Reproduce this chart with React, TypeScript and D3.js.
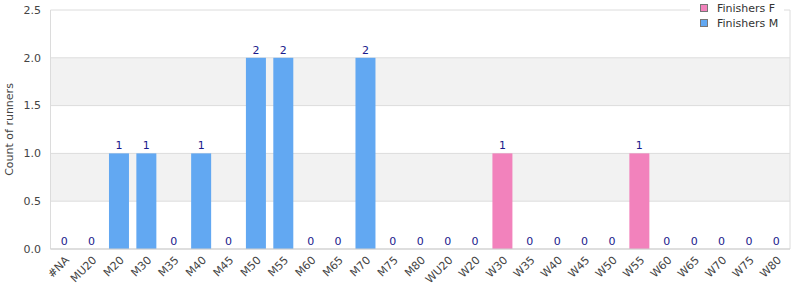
import React from "react";
import * as d3 from "d3";

const categories = ["#NA","MU20","M20","M30","M35","M40","M45","M50","M55","M60","M65","M70","M75","M80","WU20","W20","W30","W35","W40","W45","W50","W55","W60","W65","W70","W75","W80"];
const finishersF = [0,0,0,0,0,0,0,0,0,0,0,0,0,0,0,0,1,0,0,0,0,1,0,0,0,0,0];
const finishersM = [0,0,1,1,0,1,0,2,2,0,0,2,0,0,0,0,0,0,0,0,0,0,0,0,0,0,0];
const yTicks = [0, 0.5, 1.0, 1.5, 2.0, 2.5];
const seriesNames = ["Finishers F", "Finishers M"];
const colors = ["#f282bc", "#62a8f2"];

export default function App() {
  const W = 800, H = 300;
  const left = 50.5, right = 790, top = 10, bottom = 249;
  const x = d3.scaleBand<string>().domain(categories).range([left, right]).paddingInner(0.27).paddingOuter(0.135);
  const y = d3.scaleLinear().domain([0, 2.5]).range([bottom, top]);
  const font = "DejaVu Sans, sans-serif";
  const bands = [[0.5, 1.0], [1.5, 2.0]];
  return (
    <svg width={W} height={H} style={{ position: "absolute", left: 0, top: 0, fontFamily: font }}>
      <rect x={0} y={0} width={W} height={H} fill="#fff" />
      {bands.map(([a, b], i) => (
        <rect key={i} x={left} y={y(b)} width={right - left} height={y(a) - y(b)} fill="#f2f2f2" />
      ))}
      {yTicks.map((t) => (
        <g key={t}>
          <line x1={left} x2={right} y1={y(t)} y2={y(t)} stroke="#dcdcdc" />
          <text x={41} y={y(t)} dy="0.35em" textAnchor="end" fontSize={11} fill="#444">{t.toFixed(1)}</text>
        </g>
      ))}
      <line x1={left} x2={left} y1={top} y2={bottom} stroke="#dcdcdc" />
      <line x1={right} x2={right} y1={top} y2={bottom} stroke="#dcdcdc" />
      {categories.map((c, i) => {
        const v = finishersF[i] || finishersM[i];
        const col = finishersF[i] ? colors[0] : colors[1];
        const bx = x(c)!;
        return (
          <g key={c}>
            {v > 0 && <rect x={bx} y={y(v)} width={x.bandwidth()} height={bottom - y(v)} fill={col} />}
            <text x={bx + x.bandwidth() / 2} y={y(v) - 4} textAnchor="middle" fontSize={11} fill="#1a1a8c">{v}</text>
            <text transform={`translate(${bx + x.bandwidth() / 2 + 3},${bottom + 9}) rotate(-45)`} textAnchor="end" dy="0.35em" fontSize={11} fill="#444">{c}</text>
          </g>
        );
      })}
      <line x1={left} x2={right} y1={bottom} y2={bottom} stroke="#cfcfcf" />
      <text transform={`translate(9,${(top + bottom) / 2}) rotate(-90)`} textAnchor="middle" dy="0.35em" fontSize={11} fill="#444">Count of runners</text>
      <rect x={690} y={0} width={94} height={34} fill="#fff" />
      {seriesNames.map((s, i) => (
        <g key={s}>
          <rect x={700.5} y={4.5 + i * 15} width={7} height={7} fill={colors[i]} stroke="#777" />
          <text x={717} y={8 + i * 15} dy="0.35em" fontSize={11} fill="#333">{s}</text>
        </g>
      ))}
    </svg>
  );
}
